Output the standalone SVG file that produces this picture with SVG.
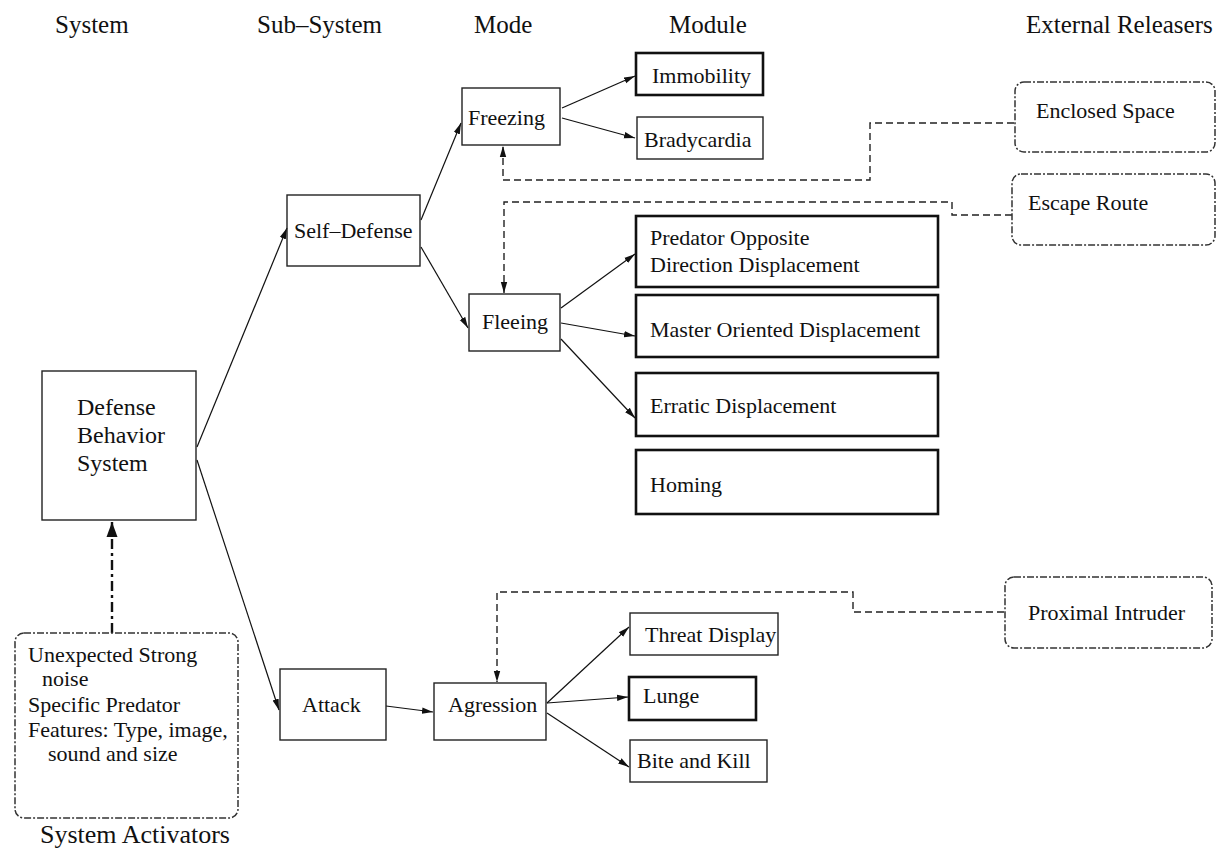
<svg xmlns="http://www.w3.org/2000/svg" width="1220" height="849" viewBox="0 0 1220 849">
<style>
text{font-family:"Liberation Serif","Times New Roman",serif;fill:#111;}
.h{font-size:25px;}
.sa{font-size:26px;}
.t{font-size:22px;}
.b{font-size:24px;}
.box{fill:none;stroke:#222;stroke-width:1.4;}
.thick{fill:none;stroke:#111;stroke-width:2.6;}
.rel{fill:none;stroke:#333;stroke-width:1.5;stroke-dasharray:7 2 2 2;}
.ln{fill:none;stroke:#111;stroke-width:1.2;}
.ds{fill:none;stroke:#222;stroke-width:1.4;stroke-dasharray:7 4;}
.dd{fill:none;stroke:#111;stroke-width:2.4;stroke-dasharray:10 4 3 4;}
</style>
<defs>
<marker id="ah" markerWidth="12" markerHeight="8" refX="11" refY="4" orient="auto" markerUnits="userSpaceOnUse">
<path d="M0,0.8 L11,4 L0,7.2 Z" fill="#111"/>
</marker>
<marker id="ahb" markerWidth="16" markerHeight="14" refX="15" refY="7" orient="auto" markerUnits="userSpaceOnUse">
<path d="M0,1.5 L15,7 L0,12.5 Z" fill="#111"/>
</marker>
</defs>
<rect width="1220" height="849" fill="#fff"/>
<g id="headers">
<text class="h" x="55" y="33">System</text>
<text class="h" x="257" y="33">Sub–System</text>
<text class="h" x="474" y="33">Mode</text>
<text class="h" x="669" y="33">Module</text>
<text class="h" x="1026" y="33">External Releasers</text>
</g>
<g id="connectors">
<line class="ln" x1="197" y1="447" x2="287" y2="228" marker-end="url(#ah)"/>
<line class="ln" x1="197" y1="460" x2="279" y2="710" marker-end="url(#ah)"/>
<line class="ln" x1="421" y1="220" x2="461" y2="123" marker-end="url(#ah)"/>
<line class="ln" x1="421" y1="247" x2="468" y2="328" marker-end="url(#ah)"/>
<line class="ln" x1="562" y1="108" x2="635" y2="76" marker-end="url(#ah)"/>
<line class="ln" x1="562" y1="118" x2="635" y2="138" marker-end="url(#ah)"/>
<line class="ln" x1="561" y1="308" x2="635" y2="254" marker-end="url(#ah)"/>
<line class="ln" x1="561" y1="323" x2="635" y2="336" marker-end="url(#ah)"/>
<line class="ln" x1="561" y1="339" x2="635" y2="418" marker-end="url(#ah)"/>
<line class="ln" x1="386" y1="706" x2="433" y2="712" marker-end="url(#ah)"/>
<line class="ln" x1="547" y1="703" x2="629" y2="627" marker-end="url(#ah)"/>
<line class="ln" x1="547" y1="703" x2="628" y2="697" marker-end="url(#ah)"/>
<line class="ln" x1="547" y1="713" x2="629" y2="767" marker-end="url(#ah)"/>
<path class="ds" d="M1014,123 H870 V180 H503 V146" marker-end="url(#ah)"/>
<path class="ds" d="M1012,215 H952 V202 H504 V293" marker-end="url(#ah)"/>
<path class="ds" d="M1004,612 H853 V592 H497 V682" marker-end="url(#ah)"/>
<path class="dd" d="M112,633 V522" marker-end="url(#ahb)"/>
</g>
<g id="dbs">
<rect class="box" x="42" y="371" width="154" height="149"/>
<text class="b" x="77" y="415">Defense</text>
<text class="b" x="77" y="443">Behavior</text>
<text class="b" x="77" y="471">System</text>
</g>
<g id="self-defense">
<rect class="box" x="287" y="195" width="133" height="71"/>
<text class="t" x="294" y="238">Self–Defense</text>
</g>
<g id="attack">
<rect class="box" x="280" y="669" width="106" height="71"/>
<text class="t" x="302" y="712">Attack</text>
</g>
<g id="freezing">
<rect class="box" x="462" y="88" width="98" height="57"/>
<text class="t" x="468" y="125">Freezing</text>
</g>
<g id="fleeing">
<rect class="box" x="469" y="294" width="91" height="57"/>
<text class="t" x="482" y="329">Fleeing</text>
</g>
<g id="agression">
<rect class="box" x="434" y="683" width="112" height="57"/>
<text class="t" x="448" y="712">Agression</text>
</g>
<g id="immobility">
<rect class="thick" x="636" y="53" width="127" height="42"/>
<text class="t" x="652" y="83">Immobility</text>
</g>
<g id="bradycardia">
<rect class="box" x="637" y="117" width="126" height="42"/>
<text class="t" x="644" y="147">Bradycardia</text>
</g>
<g id="predator-opposite">
<rect class="thick" x="636" y="216" width="302" height="71"/>
<text class="t" x="650" y="245">Predator Opposite</text>
<text class="t" x="650" y="272">Direction Displacement</text>
</g>
<g id="master-oriented">
<rect class="thick" x="636" y="295" width="302" height="62"/>
<text class="t" x="650" y="337">Master Oriented Displacement</text>
</g>
<g id="erratic">
<rect class="thick" x="636" y="373" width="302" height="63"/>
<text class="t" x="650" y="413">Erratic Displacement</text>
</g>
<g id="homing">
<rect class="thick" x="636" y="450" width="302" height="64"/>
<text class="t" x="650" y="492">Homing</text>
</g>
<g id="threat-display">
<rect class="box" x="630" y="613" width="148" height="42"/>
<text class="t" x="645" y="642">Threat Display</text>
</g>
<g id="lunge">
<rect class="thick" x="629" y="677" width="127" height="43"/>
<text class="t" x="643" y="703">Lunge</text>
</g>
<g id="bite-and-kill">
<rect class="box" x="630" y="740" width="137" height="42"/>
<text class="t" x="637" y="768">Bite and Kill</text>
</g>
<g id="enclosed-space">
<rect class="rel" x="1015" y="82" width="200" height="70" rx="9"/>
<text class="t" x="1036" y="118">Enclosed Space</text>
</g>
<g id="escape-route">
<rect class="rel" x="1012" y="174" width="203" height="71" rx="9"/>
<text class="t" x="1028" y="210">Escape Route</text>
</g>
<g id="proximal-intruder">
<rect class="rel" x="1005" y="577" width="207" height="71" rx="9"/>
<text class="t" x="1028" y="620">Proximal Intruder</text>
</g>
<g id="system-activators">
<rect class="rel" x="15" y="633" width="223" height="185" rx="9"/>
<text class="t" x="28" y="662">Unexpected Strong</text>
<text class="t" x="42" y="686">noise</text>
<text class="t" x="28" y="712">Specific Predator</text>
<text class="t" x="28" y="737">Features: Type, image,</text>
<text class="t" x="48" y="761">sound and size</text>
<text class="sa" x="40" y="843">System Activators</text>
</g>
</svg>
